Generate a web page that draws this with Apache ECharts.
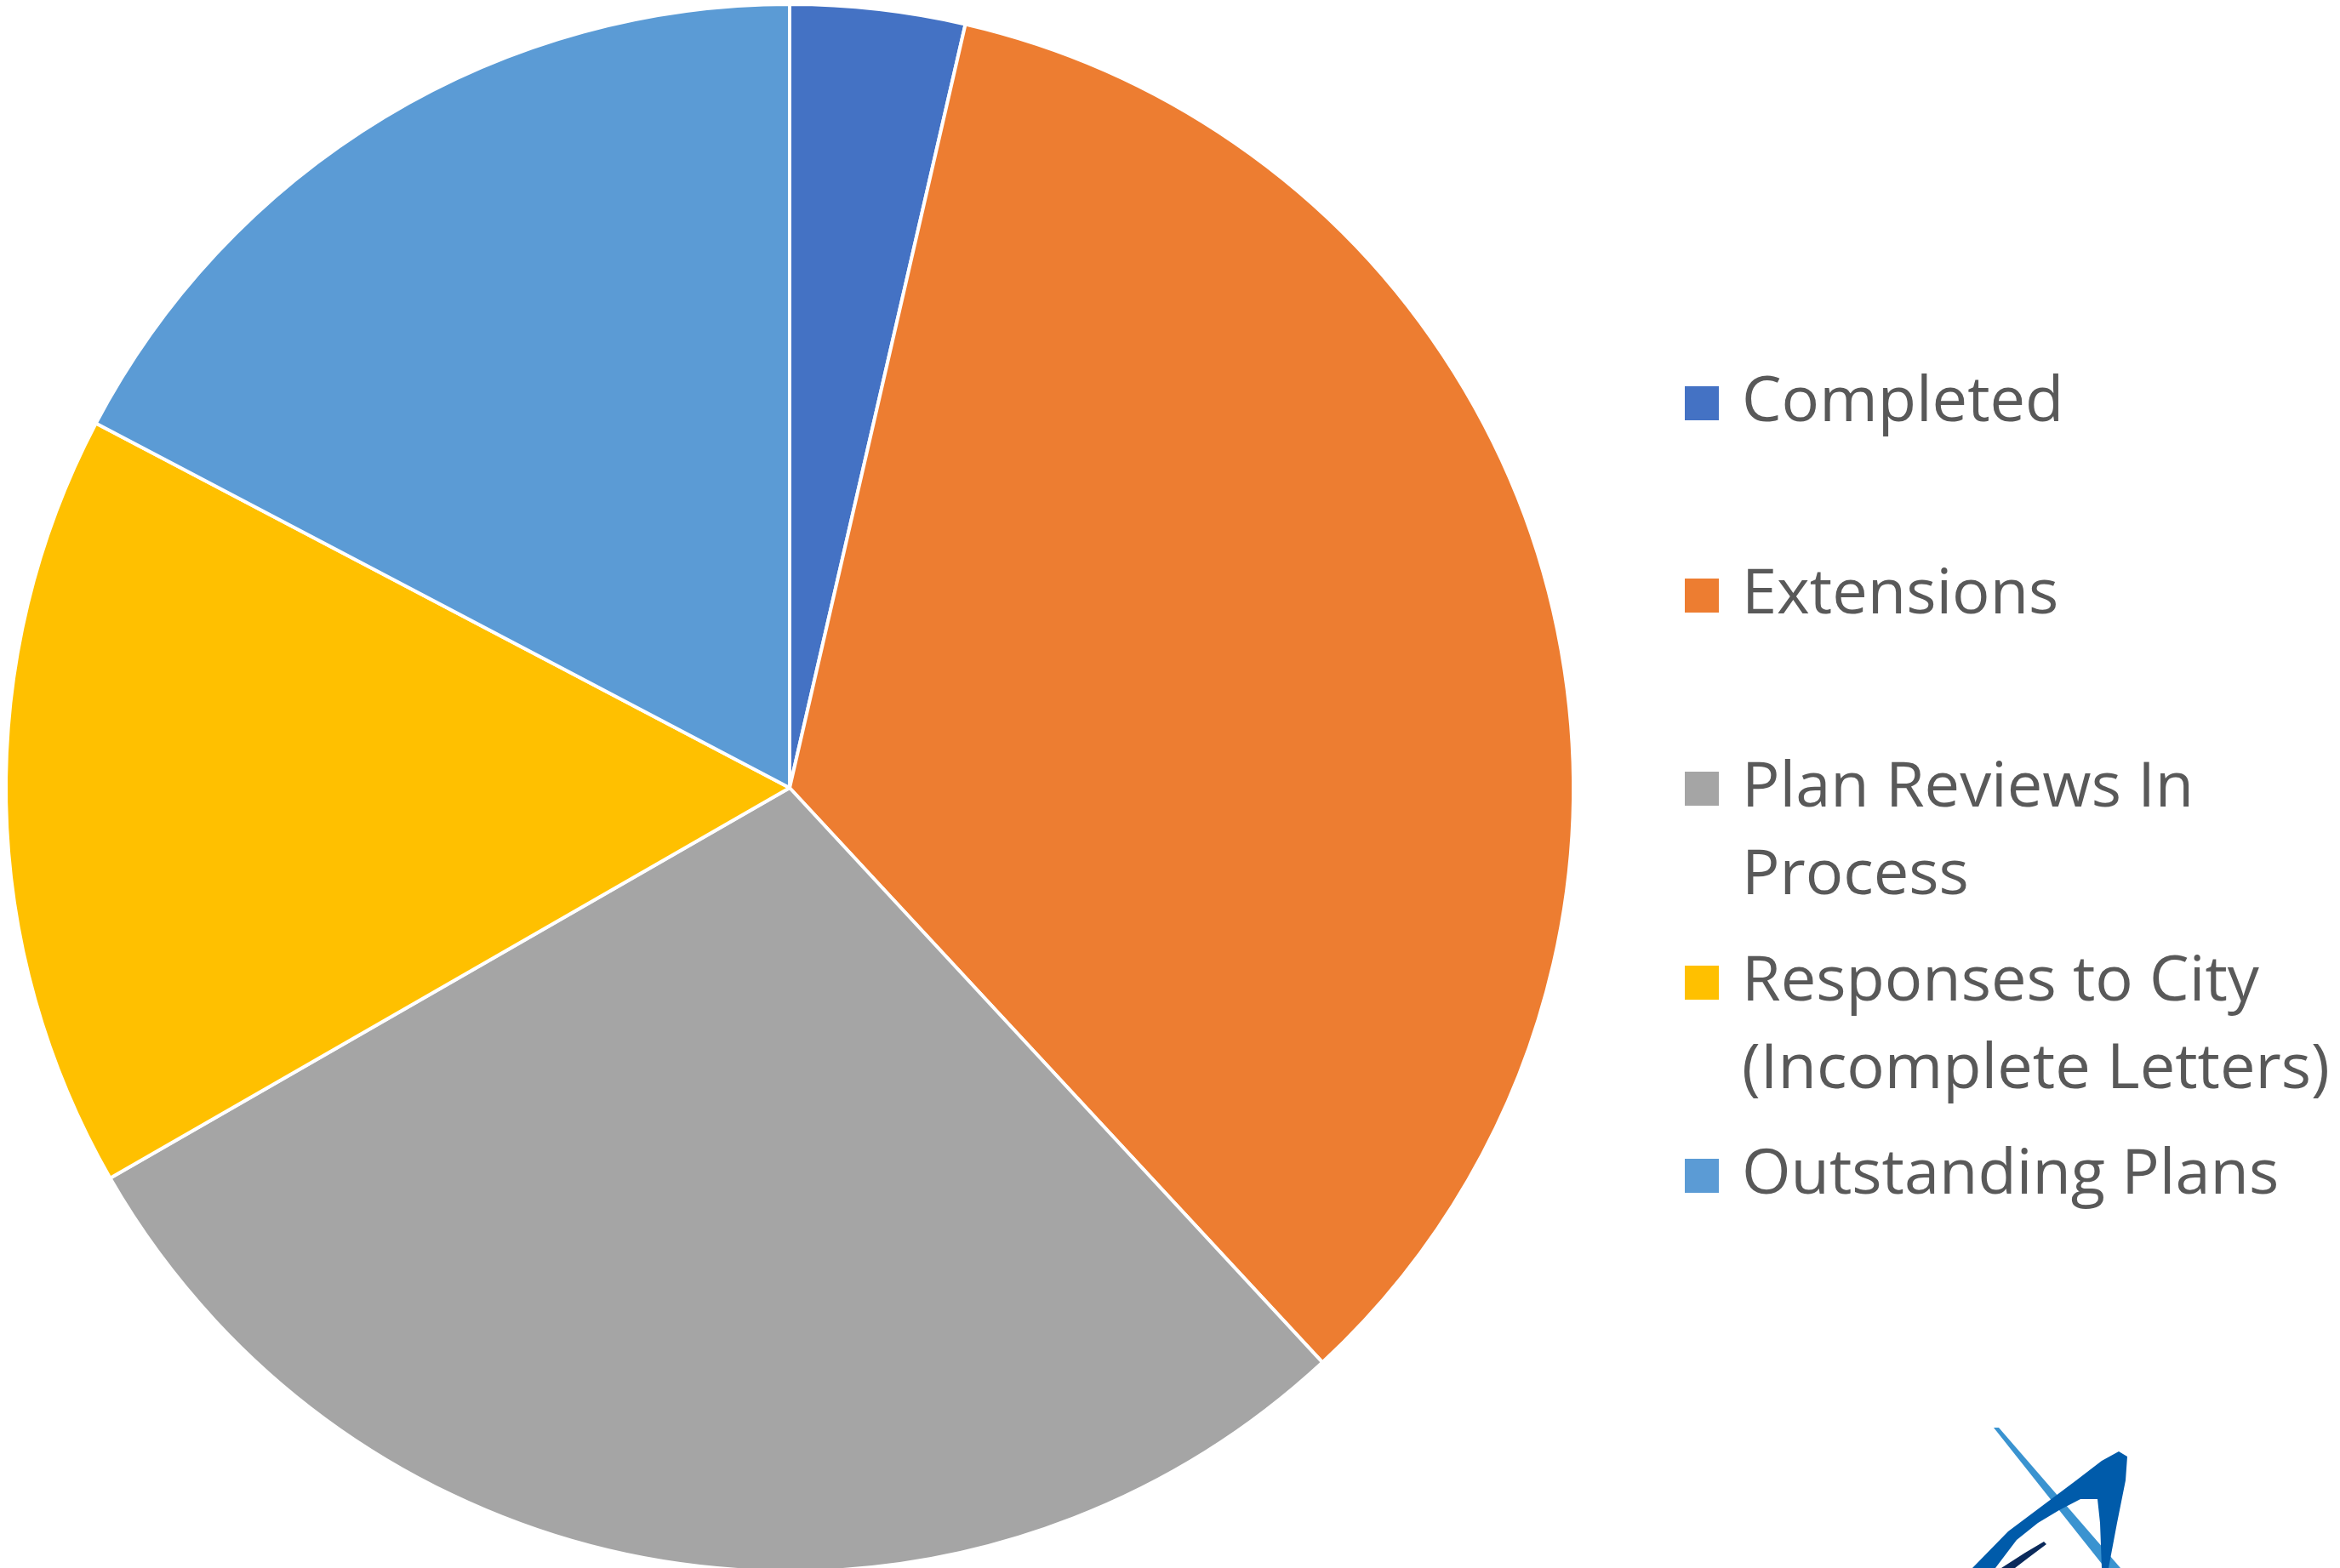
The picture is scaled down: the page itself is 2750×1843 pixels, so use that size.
<!DOCTYPE html>
<html>
<head>
<meta charset="utf-8">
<script src="https://cdn.jsdelivr.net/npm/echarts@6/dist/echarts.min.js"></script>
<style>
html,body{margin:0;padding:0;background:#fff;}
#chart{width:2750px;height:1843px;}
</style>
</head>
<body>
<div id="chart"></div>
<script>
// Data (percent shares)
const categories = ['Completed', 'Extensions', 'Plan Reviews In Process', 'Responses to City (Incomplete Letters)', 'Outstanding Plans'];
const values = [3.6, 34.5, 28.6, 16.0, 17.3];
const colors = ['#4472C4', '#ED7D31', '#A5A5A5', '#FFC000', '#5B9BD5'];
const legendLabels = ['Completed', 'Extensions', 'Plan Reviews In\nProcess', 'Responses to City\n(Incomplete Letters)', 'Outstanding Plans'];
const legendMarkerCenters = [474, 700, 927, 1155, 1382];

const chart = echarts.init(document.getElementById('chart'), null, {renderer: 'canvas'});

const LH = 103;
const legends = categories.map((name, i) => {
  const twoLine = legendLabels[i].indexOf('\n') >= 0;
  return {
    data: [name],
    orient: 'vertical',
    left: 1978,
    top: legendMarkerCenters[i] - (twoLine ? 154.5 : 51.5),
    padding: 0,
    itemGap: 0,
    itemWidth: 42,
    itemHeight: 42,
    icon: 'rect',
    selectedMode: false,
    // two-line entries get an empty leading line so the first text line sits beside the marker
    formatter: () => (twoLine ? '\n' : '') + legendLabels[i],
    textStyle: {
      fontFamily: 'Open Sans',
      fontSize: 74,
      color: '#595959',
      lineHeight: LH,
      padding: [0, 0, 0, 21]
    }
  };
});

chart.setOption({
  animation: false,
  backgroundColor: '#ffffff',
  color: colors,
  legend: legends,
  series: [{
    type: 'pie',
    center: [928, 926],
    radius: 921,
    startAngle: 90,
    clockwise: true,
    avoidLabelOverlap: false,
    label: {show: false},
    labelLine: {show: false},
    emphasis: {disabled: true},
    itemStyle: {borderColor: '#ffffff', borderWidth: 4},
    data: categories.map((c, i) => ({name: c, value: values[i]}))
  }],
  graphic: [
    { type: 'polygon', silent: true,
      shape: { points: [[2343,1678],[2349,1678],[2492,1843],[2474,1843]] },
      style: { fill: '#3A93D0' } },
    { type: 'polygon', silent: true,
      shape: { points: [[2318,1843],[2360,1800],[2400,1770],[2440,1740],[2470,1717],[2490,1706],[2500,1712],[2498,1740],[2488,1790],[2478,1843],[2470,1843],[2468,1790],[2465,1762],[2445,1762],[2420,1775],[2395,1790],[2370,1810],[2345,1843]] },
      style: { fill: '#005BAA' } },
    { type: 'polygon', silent: true,
      shape: { points: [[2352,1843],[2380,1825],[2402,1812],[2405,1815],[2385,1830],[2368,1843]] },
      style: { fill: '#0B2A5B' } }
  ]
});
</script>
</body>
</html>
